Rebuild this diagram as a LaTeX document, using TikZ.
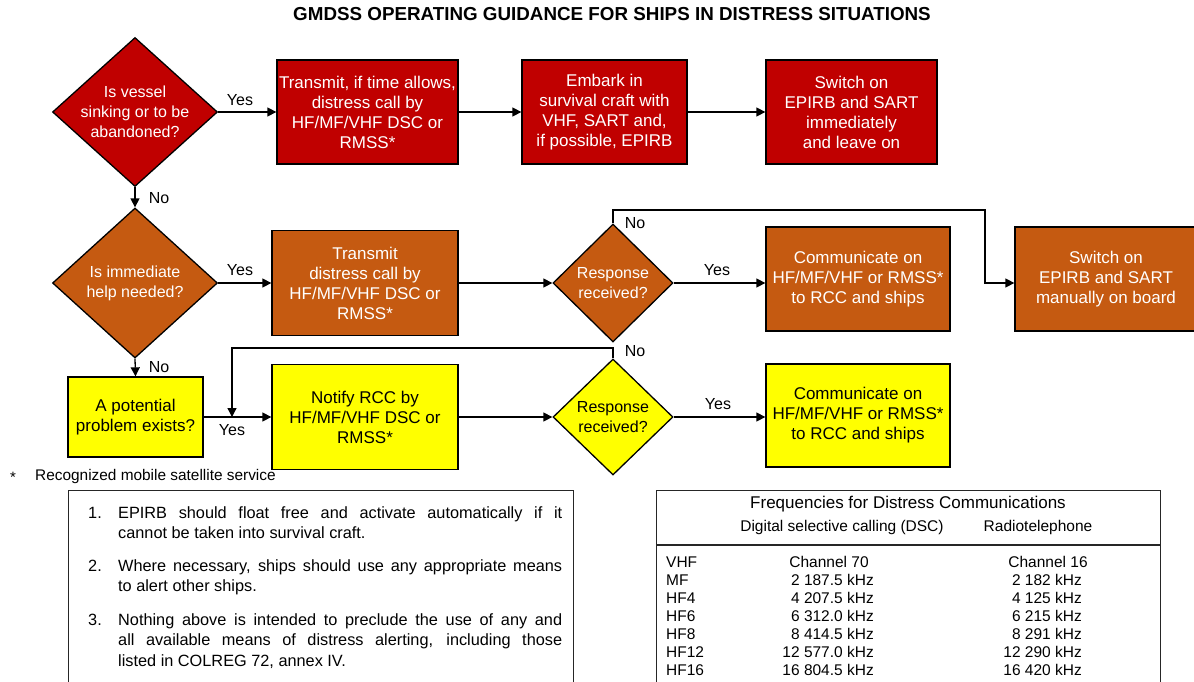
\documentclass[tikz,border=0pt]{standalone}
\usepackage{fontspec}
\setmainfont{Liberation Sans}
\usetikzlibrary{shapes.geometric,arrows.meta}
\definecolor{cred}{HTML}{C00000}
\definecolor{corange}{HTML}{C55A11}
\definecolor{cyellow}{HTML}{FFFF00}
\newcommand{\myfs}[2]{\fontsize{#1pt}{#2pt}\selectfont}
\newcommand{\notenum}[1]{\leftskip=30pt\noindent\hskip-30pt\makebox[30pt][l]{#1}}
\begin{document}
\begin{tikzpicture}[x=1pt,y=-1pt,
  box/.style={draw=black, line width=1.3pt, inner sep=0pt, align=center, font=\myfs{17}{20}},
  rbox/.style={box, fill=cred, text=white},
  obox/.style={box, fill=corange, text=white},
  ybox/.style={box, fill=cyellow, text=black},
  dia/.style={diamond, draw=black, line width=1.3pt, inner sep=0pt},
  dtxt/.style={inner sep=0pt, align=center, font=\myfs{16}{20}},
  arr/.style={-{Triangle[length=9pt,width=9pt]}, line width=1.3pt},
  lab/.style={inner sep=0pt, font=\myfs{16}{19}},
  frame/.style={draw=black!85, line width=1.3pt, inner sep=0pt},
  note/.style={inner sep=0pt, text width=474pt, align=justify, font=\myfs{16.3}{20.5}},
  tb/.style={inner sep=0pt, font=\myfs{15.5}{18}},
]
\useasboundingbox (0,0) rectangle (1194,682);

\node[inner sep=0pt, font=\bfseries\myfs{18.8}{20}] (T) at (612,14) {GMDSS OPERATING GUIDANCE FOR SHIPS IN DISTRESS SITUATIONS};

% Row 1
\node[dia, fill=cred, minimum width=165pt, minimum height=149pt] (D1) at (135,112) {};
\node[dtxt, text=white] (D1t) at (D1) {Is vessel\\sinking or to be\\abandoned?};
\node[rbox, minimum width=181pt, minimum height=104pt] (B1) at (367.5,112) {Transmit, if time allows,\\distress call by\\HF/MF/VHF DSC or\\RMSS*};
\node[rbox, minimum width=165pt, minimum height=104pt] (B2) at (604.5,112) {Embark in\\survival craft with\\VHF, SART and,\\if possible, EPIRB};
\node[rbox, minimum width=171pt, minimum height=104pt] (B3) at (851.5,112) {Switch on\\EPIRB and SART\\immediately\\and leave on};

% Row 2
\node[dia, fill=corange, minimum width=165pt, minimum height=150pt] (D2) at (135,283) {};
\node[dtxt, text=white] (D2t) at (D2) {Is immediate\\help needed?};
\node[obox, minimum width=186pt, minimum height=105pt] (B4) at (365,283) {Transmit\\distress call by\\HF/MF/VHF DSC or\\RMSS*};
\node[dia, fill=corange, minimum width=120pt, minimum height=118pt] (D3) at (613,283) {};
\node[dtxt, text=white] (D3t) at (D3) {Response\\received?};
\node[obox, minimum width=184pt, minimum height=104pt] (B5) at (858,279) {Communicate on\\HF/MF/VHF or RMSS*\\to RCC and ships};
\node[obox, minimum width=182pt, minimum height=104pt] (B6) at (1106,279) {Switch on\\EPIRB and SART\\manually on board};

% Row 3
\node[ybox, minimum width=135pt, minimum height=80pt] (B7) at (135.5,417) {A potential\\problem exists?};
\node[ybox, minimum width=186pt, minimum height=105pt] (B8) at (365,417) {Notify RCC by\\HF/MF/VHF DSC or\\RMSS*};
\node[dia, fill=cyellow, minimum width=120pt, minimum height=116pt] (D4) at (613,417) {};
\node[dtxt, text=black] (D4t) at (D4) {Response\\received?};
\node[ybox, minimum width=184pt, minimum height=103pt] (B9) at (858,415.5) {Communicate on\\HF/MF/VHF or RMSS*\\to RCC and ships};

% connectors
\draw[arr] (D1.east) -- (B1.west);
\draw[arr] (B1.east) -- (B2.west);
\draw[arr] (B2.east) -- (B3.west);
\draw[arr] (D1.south) -- (D2.north);
\draw[arr] (D2.east) -- (D2.east -| B4.west);
\draw[arr] (B4.east) -- (B4.east -| D3.west);
\draw[arr] (D3.east) -- (D3.east -| B5.west);
\coordinate (c1) at (985,210);
\draw[arr] (D3.north) |- (c1) |- (D3.east -| B6.west);
\draw[arr] (D2.south) -- (B7.north);
\draw[arr] (B7.east) -- (B7.east -| B8.west);
\draw[arr] (B8.east) -- (B8.east -| D4.west);
\draw[arr] (D4.east) -- (D4.east -| B9.west);
\coordinate (c2) at (232,348);
\coordinate (j) at (232,417);
\draw[arr] (D4.north) |- (c2) -- (j);

% labels
\node[lab] (l1) at (240,100) {Yes};
\node[lab] (l2) at (159,198) {No};
\node[lab] (l3) at (240,270) {Yes};
\node[lab] (l4) at (635,223) {No};
\node[lab] (l5) at (717,270) {Yes};
\node[lab] (l6) at (159,367) {No};
\node[lab] (l7) at (635,351) {No};
\node[lab] (l8) at (232,430) {Yes};
\node[lab] (l9) at (718,404) {Yes};

% footnote
\node[inner sep=0pt, font=\myfs{15}{18}] (fs) at (13,477) {*};
\node[inner sep=0pt, font=\myfs{15.4}{18}, anchor=west] (fn) at (35,477) {Recognized mobile satellite service};

% notes box
\node[frame, minimum width=505pt, minimum height=200pt, anchor=north west] (NB) at (68,490) {};
\node[note, anchor=north west] (N1) at (88,506) {\notenum{1.}EPIRB should float free and activate automatically if it\linebreak cannot be taken into survival craft.\par};
\node[note, anchor=north west] (N2) at (88,559) {\notenum{2.}Where necessary, ships should use any appropriate means\linebreak to alert other ships.\par};
\node[note, anchor=north west] (N3) at (88,613) {\notenum{3.}Nothing above is intended to preclude the use of any and\linebreak all available means of distress alerting, including those\linebreak listed in COLREG 72, annex IV.\par};

% frequency table
\node[frame, minimum width=504pt, minimum height=200pt, anchor=north west] (FB) at (656,490) {};
\coordinate (h1) at (656,545);
\coordinate (h2) at (1160,545);
\draw[draw=black!85, line width=1.3pt] (h1) -- (h2);
\node[inner sep=0pt, font=\myfs{17}{20}] (fh) at (908,504) {Frequencies for Distress Communications};
\node[tb] (fd) at (842,527) {Digital selective calling (DSC)};
\node[tb] (fr) at (1038,527) {Radiotelephone};

\node[tb, anchor=base west] (r0a) at (666,567) {VHF};
\node[tb, anchor=base] (r0b) at (829,567) {Channel 70};
\node[tb, anchor=base] (r0c) at (1048,567) {Channel 16};
\foreach \a/\b/\c [count=\i] in {MF/2~187.5 kHz/2~182 kHz, HF4/4~207.5 kHz/4~125 kHz, HF6/6~312.0 kHz/6~215 kHz, HF8/8~414.5 kHz/8~291 kHz, HF12/12~577.0 kHz/12~290 kHz, HF16/16~804.5 kHz/16~420 kHz}{
  \node[tb, anchor=base west] (r\i a) at (666,567+18*\i) {\a};
  \node[tb, anchor=base east] (r\i b) at (874,567+18*\i) {\b};
  \node[tb, anchor=base east] (r\i c) at (1082,567+18*\i) {\c};
}
\end{tikzpicture}
\end{document}
